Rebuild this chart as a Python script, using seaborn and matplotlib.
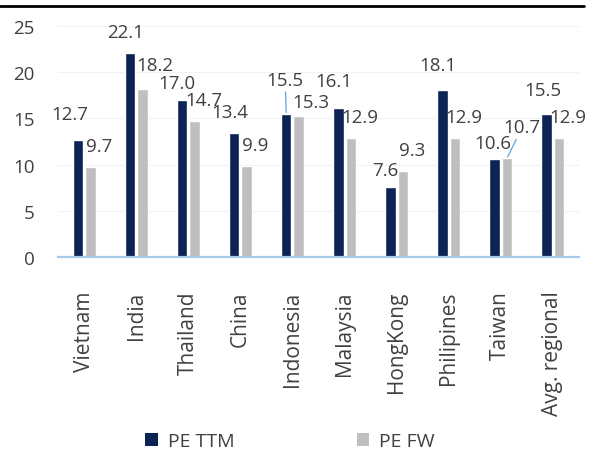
import pandas as pd
import matplotlib.pyplot as plt
import seaborn as sns
from matplotlib.lines import Line2D
from matplotlib.patches import Patch

countries = ['Vietnam', 'India', 'Thailand', 'China', 'Indonesia', 'Malaysia',
             'HongKong', 'Philipines', 'Taiwan', 'Avg. regional']
pe_ttm = [12.7, 22.1, 17.0, 13.4, 15.5, 16.1, 7.6, 18.1, 10.6, 15.5]
pe_fw = [9.7, 18.2, 14.7, 9.9, 15.3, 12.9, 9.3, 12.9, 10.7, 12.9]
series = ['PE TTM', 'PE FW']
colors = ['#0B2454', '#BFBFBF']
text_col = '#404040'

df = pd.DataFrame({
    'country': countries * 2,
    'series': [series[0]] * len(countries) + [series[1]] * len(countries),
    'pe': pe_ttm + pe_fw,
})

sns.set_theme(style='white')
plt.rcParams['font.family'] = ['Open Sans', 'DejaVu Sans']

fig = plt.figure(figsize=(5.93, 4.52), dpi=100)
ax = fig.add_axes([58 / 593, 1 - 258 / 452, 521 / 593, 231 / 452])

sns.barplot(data=df, x='country', y='pe', hue='series', palette=colors,
            width=0.48, gap=0.16, legend=False, ax=ax, saturation=1)

ax.set_ylim(0, 25)
ax.set_xlim(-0.5, len(countries) - 0.5)
ax.set_yticks([0, 5, 10, 15, 20, 25])
ax.yaxis.grid(True, color='#F2F2F2', lw=0.8)
ax.set_axisbelow(True)
for s in ['top', 'left', 'right']:
    ax.spines[s].set_visible(False)
ax.spines['bottom'].set_color('#A9CBEB')
ax.spines['bottom'].set_linewidth(1.6)
ax.tick_params(axis='y', length=0, pad=17, labelsize=13.5, labelcolor=text_col)
ax.tick_params(axis='x', length=0, pad=24, labelsize=15, labelcolor=text_col, rotation=90)
ax.set_xlabel('')
ax.set_ylabel('')

# data labels, offsets in pixels like the hand-placed excel labels
px = 0.72
offsets = {(0, 0): (-8, 26), (0, 2): (-5, 17), (0, 4): (-1, 34), (0, 5): (-5, 27),
           (0, 6): (-5, 17), (0, 7): (-5, 25), (0, 8): (-2, 16), (0, 9): (-4, 24),
           (1, 1): (12, 24), (1, 4): (12, 14), (1, 8): (15, 31)}
leader = [(0, 4), (1, 8)]
for k, cont in enumerate(ax.containers):
    for i, bar in enumerate(cont):
        h = bar.get_height()
        xc = bar.get_x() + bar.get_width() / 2
        dx, dy = offsets.get((k, i), (-4, 21) if k == 0 else (9, 21))
        arrow = None
        if (k, i) in leader:
            arrow = dict(arrowstyle='-', color='#6FA8DC', lw=1, shrinkA=0, shrinkB=1)
        ax.annotate(f'{h:.1f}', xy=(xc, h), xytext=(dx * px, dy * px),
                    textcoords='offset points', ha='center', va='center',
                    fontsize=13.5, color=text_col, arrowprops=arrow)

fig.add_artist(Line2D([0, 0.985], [1 - 7 / 452] * 2, color='black', lw=2))

handles = [Patch(facecolor=c, edgecolor='none') for c in colors]
fig.legend(handles, series, loc='center', bbox_to_anchor=(290 / 593, 1 - 442 / 452),
           ncol=2, frameon=False, handlelength=0.65, handleheight=0.65,
           handletextpad=0.5, columnspacing=6.3, fontsize=14, labelcolor=text_col)

fig.savefig('out.png', dpi=100)
